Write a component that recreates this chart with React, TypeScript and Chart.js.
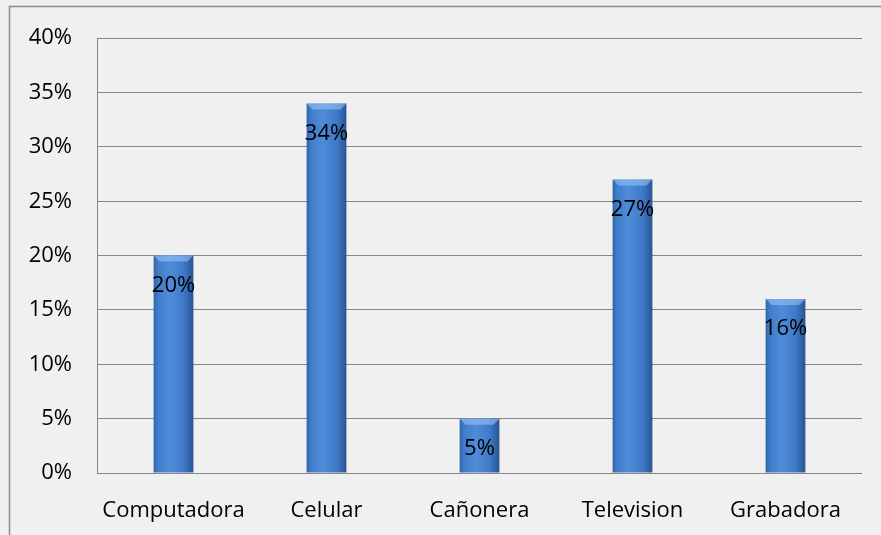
import React, { useEffect, useRef } from "react";
import { Chart, registerables } from "chart.js";

Chart.register(...registerables);

const categories = ["Computadora", "Celular", "Cañonera", "Television", "Grabadora"];
const values = [20, 34, 5, 27, 16];
const yTicks = [0, 5, 10, 15, 20, 25, 30, 35, 40];

const FONT = "'Open Sans', Lato, sans-serif";
const FONT_SIZE = 22;
const BAR_PCT = 0.26;

export default function App() {
  const ref = useRef<HTMLCanvasElement | null>(null);

  useEffect(() => {
    const canvas = ref.current;
    if (!canvas) return;

    const framePlugin = {
      id: "frame",
      beforeDraw(chart: any) {
        const ctx = chart.ctx;
        ctx.save();
        ctx.fillStyle = "#f0f0f0";
        ctx.fillRect(0, 0, chart.width, chart.height);
        ctx.strokeStyle = "#8c8c8c";
        ctx.lineWidth = 1.5;
        ctx.beginPath();
        ctx.moveTo(9.5, chart.height + 2);
        ctx.lineTo(9.5, 6.5);
        ctx.lineTo(chart.width + 2, 6.5);
        ctx.stroke();
        ctx.restore();
      },
      afterDatasetsDraw(chart: any) {
        const ctx = chart.ctx;
        const meta = chart.getDatasetMeta(0);
        ctx.save();
        meta.data.forEach((el: any, i: number) => {
          const w = el.width;
          const x0 = el.x - w / 2;
          const bev = 6;
          ctx.fillStyle = "rgba(150,195,245,0.6)";
          ctx.beginPath();
          ctx.moveTo(x0, el.y);
          ctx.lineTo(x0 + w, el.y);
          ctx.lineTo(x0 + w - bev, el.y + bev);
          ctx.lineTo(x0 + bev, el.y + bev);
          ctx.closePath();
          ctx.fill();
          ctx.fillStyle = "#000000";
          ctx.font = `${FONT_SIZE}px ${FONT}`;
          ctx.textAlign = "center";
          ctx.textBaseline = "middle";
          ctx.fillText(values[i] + "%", el.x, el.y + 30);
        });
        ctx.restore();
      },
    };

    const barColor = (c: any) => {
      const chart = c.chart;
      const xs = chart.scales && chart.scales.x;
      if (!xs || !chart.chartArea) return "#3d78c8";
      const cx = xs.getPixelForValue(c.dataIndex);
      const w = (xs.width / categories.length) * BAR_PCT;
      const x0 = cx - w / 2;
      const g = chart.ctx.createLinearGradient(x0, 0, x0 + w, 0);
      g.addColorStop(0, "#3165ab");
      g.addColorStop(0.12, "#417dcb");
      g.addColorStop(0.4, "#4e8cda");
      g.addColorStop(0.75, "#407ac8");
      g.addColorStop(1, "#285592");
      return g;
    };

    const chart = new Chart(canvas, {
      type: "bar",
      data: {
        labels: categories,
        datasets: [
          {
            data: values,
            backgroundColor: barColor,
            borderWidth: 0,
            barPercentage: BAR_PCT,
            categoryPercentage: 1,
          },
        ],
      },
      options: {
        responsive: false,
        animation: false,
        layout: { padding: { left: 0, right: 19, top: 33, bottom: 0 } },
        plugins: {
          legend: { display: false },
          tooltip: { enabled: false },
        },
        scales: {
          x: {
            grid: { display: false, drawTicks: false },
            border: { display: false },
            ticks: {
              color: "#000000",
              font: { family: FONT, size: FONT_SIZE },
              padding: 25,
              maxRotation: 0,
            },
            afterFit(scale: any) {
              scale.height = 62;
            },
          },
          y: {
            min: 0,
            max: 40,
            afterBuildTicks(scale: any) {
              scale.ticks = yTicks.map((v) => ({ value: v }));
            },
            grid: { color: "#878787", lineWidth: 1, drawTicks: false },
            border: { display: true, color: "#878787", width: 1 },
            ticks: {
              color: "#000000",
              font: { family: FONT, size: FONT_SIZE },
              padding: 25,
              callback: (v: any) => v + "%",
            },
            afterFit(scale: any) {
              scale.width = 97;
            },
          },
        },
      },
      plugins: [framePlugin],
    });

    return () => chart.destroy();
  }, []);

  return (
    <div style={{ position: "fixed", left: 0, top: 0, width: 881, height: 535 }}>
      <canvas ref={ref} width={881} height={535} style={{ display: "block" }} />
    </div>
  );
}
